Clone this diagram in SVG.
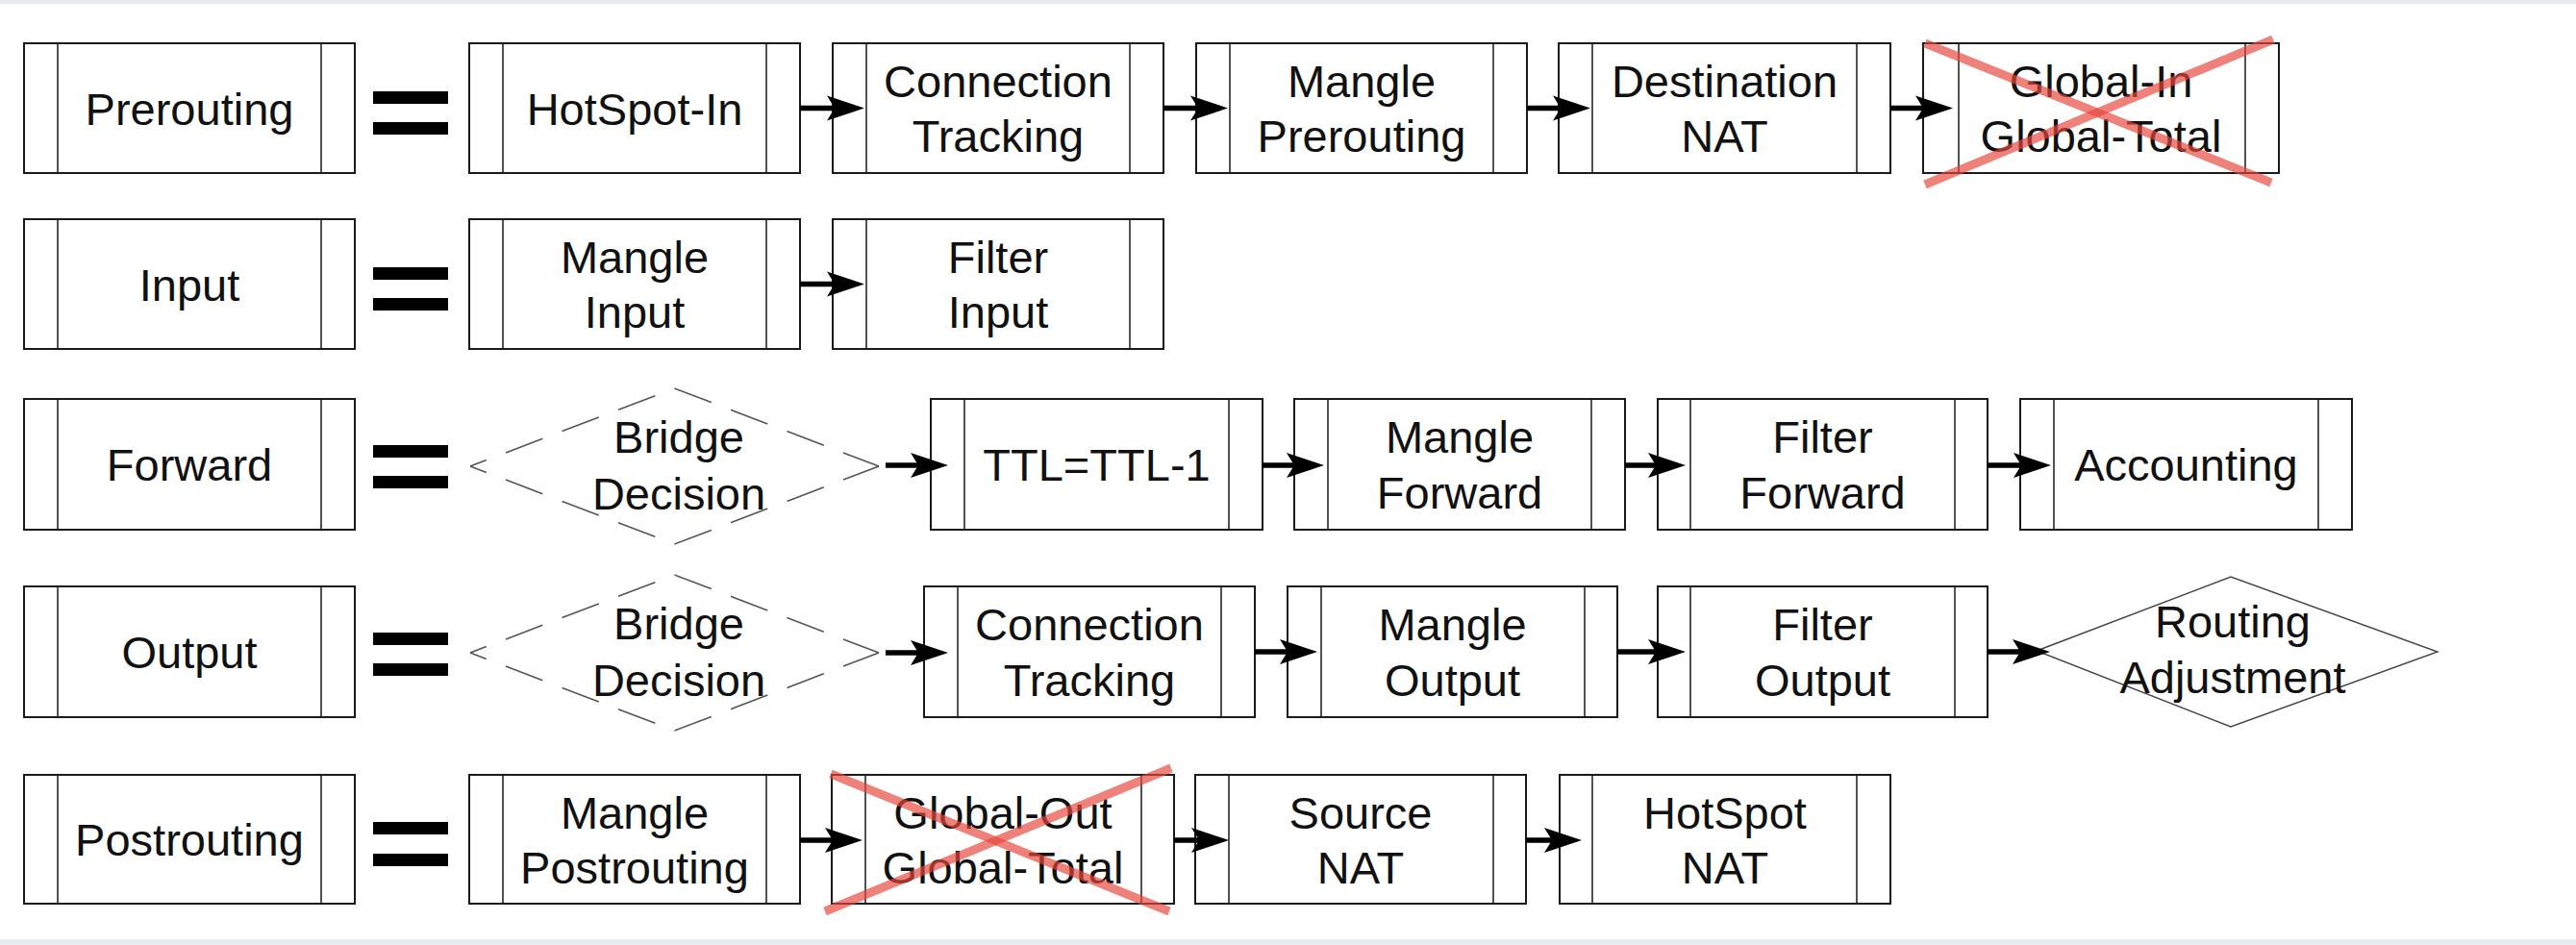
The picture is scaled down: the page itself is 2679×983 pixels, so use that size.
<svg xmlns="http://www.w3.org/2000/svg" width="2679" height="983" viewBox="0 0 2679 983">
<style>
.bx rect{fill:#fff;stroke:#1a1a1a;stroke-width:2}
.bx line{stroke:#1a1a1a;stroke-width:1.5}
text{font-family:"Liberation Sans",Arial,Helvetica,sans-serif;font-size:47px;fill:#111;text-anchor:middle}
.eq rect{fill:#000}
.dd{fill:none;stroke:#555;stroke-width:1.6;stroke-dasharray:41 21.6;stroke-dashoffset:23}
.rd{fill:#fff;stroke:#444;stroke-width:1.4}
.cx line{stroke:#e8463c;stroke-opacity:0.68;stroke-width:9}
#connectors path{fill:none;stroke:#000;stroke-width:5.5;marker-end:url(#ah)}
</style>
<defs>
<marker id="ah" markerUnits="userSpaceOnUse" markerWidth="46" markerHeight="32" viewBox="-2 -16 46 32" refX="13" refY="0" orient="auto">
<path d="M0,-13 L39,0 L0,13 L8,0 Z" fill="#000"/>
</marker>
</defs>
<rect x="0" y="0" width="2679" height="983" fill="#fff"/>
<rect x="0" y="0" width="2679" height="4" fill="#e6e9ee"/>
<rect x="0" y="977" width="2679" height="6" fill="#e9ecf0"/>

<!-- Row 1 -->
<g id="prerouting" class="bx"><rect x="25" y="45" width="344" height="135"/><line x1="60" y1="45" x2="60" y2="180"/><line x1="334" y1="45" x2="334" y2="180"/><text x="197" y="129.5">Prerouting</text></g>
<g id="eq1" class="eq"><rect x="388" y="95" width="78" height="13"/><rect x="388" y="127" width="78" height="13"/></g>
<g id="hotspot-in" class="bx"><rect x="488" y="45" width="344" height="135"/><line x1="523" y1="45" x2="523" y2="180"/><line x1="797" y1="45" x2="797" y2="180"/><text x="660" y="129.5">HotSpot-In</text></g>
<g id="conntrack1" class="bx"><rect x="866" y="45" width="344" height="135"/><line x1="901" y1="45" x2="901" y2="180"/><line x1="1175" y1="45" x2="1175" y2="180"/><text x="1038" y="100.5">Connection</text><text x="1038" y="158">Tracking</text></g>
<g id="mangle-prerouting" class="bx"><rect x="1244" y="45" width="344" height="135"/><line x1="1279" y1="45" x2="1279" y2="180"/><line x1="1553" y1="45" x2="1553" y2="180"/><text x="1416" y="100.5">Mangle</text><text x="1416" y="158">Prerouting</text></g>
<g id="dst-nat" class="bx"><rect x="1621" y="45" width="345" height="135"/><line x1="1656" y1="45" x2="1656" y2="180"/><line x1="1931" y1="45" x2="1931" y2="180"/><text x="1793.5" y="100.5">Destination</text><text x="1793.5" y="158">NAT</text></g>
<g id="global-in" class="bx"><rect x="2000" y="45" width="370" height="135"/><line x1="2037" y1="45" x2="2037" y2="180"/><line x1="2335" y1="45" x2="2335" y2="180"/><text x="2185" y="100.5">Global-In</text><text x="2185" y="158">Global-Total</text>
<g class="cx"><line x1="2002" y1="45" x2="2362" y2="190"/><line x1="2364" y1="41" x2="2002" y2="192"/></g></g>

<!-- Row 2 -->
<g id="input" class="bx"><rect x="25" y="228" width="344" height="135"/><line x1="60" y1="228" x2="60" y2="363"/><line x1="334" y1="228" x2="334" y2="363"/><text x="197" y="312.5">Input</text></g>
<g id="eq2" class="eq"><rect x="388" y="278" width="78" height="13"/><rect x="388" y="310" width="78" height="13"/></g>
<g id="mangle-input" class="bx"><rect x="488" y="228" width="344" height="135"/><line x1="523" y1="228" x2="523" y2="363"/><line x1="797" y1="228" x2="797" y2="363"/><text x="660" y="283.5">Mangle</text><text x="660" y="341">Input</text></g>
<g id="filter-input" class="bx"><rect x="866" y="228" width="344" height="135"/><line x1="901" y1="228" x2="901" y2="363"/><line x1="1175" y1="228" x2="1175" y2="363"/><text x="1038" y="283.5">Filter</text><text x="1038" y="341">Input</text></g>

<!-- Row 3 -->
<g id="forward" class="bx"><rect x="25" y="415" width="344" height="136"/><line x1="60" y1="415" x2="60" y2="551"/><line x1="334" y1="415" x2="334" y2="551"/><text x="197" y="500">Forward</text></g>
<g id="eq3" class="eq"><rect x="388" y="463" width="78" height="13"/><rect x="388" y="495" width="78" height="13"/></g>
<g id="bridge1"><path class="dd" d="M489,485 L701.5,404 L914,485"/><path class="dd" d="M489,485 L701.5,566 L914,485"/><text x="706" y="471">Bridge</text><text x="706" y="530">Decision</text></g>
<g id="ttl" class="bx"><rect x="968" y="415" width="345" height="136"/><line x1="1003" y1="415" x2="1003" y2="551"/><line x1="1278" y1="415" x2="1278" y2="551"/><text x="1140.5" y="500">TTL=TTL-1</text></g>
<g id="mangle-forward" class="bx"><rect x="1346" y="415" width="344" height="136"/><line x1="1381" y1="415" x2="1381" y2="551"/><line x1="1655" y1="415" x2="1655" y2="551"/><text x="1518" y="471">Mangle</text><text x="1518" y="528.5">Forward</text></g>
<g id="filter-forward" class="bx"><rect x="1724" y="415" width="343" height="136"/><line x1="1758" y1="415" x2="1758" y2="551"/><line x1="2033" y1="415" x2="2033" y2="551"/><text x="1895.5" y="471">Filter</text><text x="1895.5" y="528.5">Forward</text></g>
<g id="accounting" class="bx"><rect x="2101" y="415" width="345" height="136"/><line x1="2136" y1="415" x2="2136" y2="551"/><line x1="2411" y1="415" x2="2411" y2="551"/><text x="2273.5" y="500">Accounting</text></g>

<!-- Row 4 -->
<g id="output" class="bx"><rect x="25" y="610" width="344" height="136"/><line x1="60" y1="610" x2="60" y2="746"/><line x1="334" y1="610" x2="334" y2="746"/><text x="197" y="695">Output</text></g>
<g id="eq4" class="eq"><rect x="388" y="658" width="78" height="13"/><rect x="388" y="690" width="78" height="13"/></g>
<g id="bridge2"><path class="dd" d="M489,679 L701.5,598 L914,679"/><path class="dd" d="M489,679 L701.5,760 L914,679"/><text x="706" y="665">Bridge</text><text x="706" y="724">Decision</text></g>
<g id="conntrack2" class="bx"><rect x="961" y="610" width="344" height="136"/><line x1="996" y1="610" x2="996" y2="746"/><line x1="1270" y1="610" x2="1270" y2="746"/><text x="1133" y="666">Connection</text><text x="1133" y="723.5">Tracking</text></g>
<g id="mangle-output" class="bx"><rect x="1339" y="610" width="343" height="136"/><line x1="1374" y1="610" x2="1374" y2="746"/><line x1="1648" y1="610" x2="1648" y2="746"/><text x="1510.5" y="666">Mangle</text><text x="1510.5" y="723.5">Output</text></g>
<g id="filter-output" class="bx"><rect x="1724" y="610" width="343" height="136"/><line x1="1758" y1="610" x2="1758" y2="746"/><line x1="2033" y1="610" x2="2033" y2="746"/><text x="1895.5" y="666">Filter</text><text x="1895.5" y="723.5">Output</text></g>
<g id="routing-adjustment"><path class="rd" d="M2118,677 L2320,600 L2535,678 L2320,756 Z"/><text x="2322" y="663">Routing</text><text x="2322" y="721">Adjustment</text></g>

<!-- Row 5 -->
<g id="postrouting" class="bx"><rect x="25" y="806" width="344" height="134"/><line x1="60" y1="806" x2="60" y2="940"/><line x1="334" y1="806" x2="334" y2="940"/><text x="197" y="890">Postrouting</text></g>
<g id="eq5" class="eq"><rect x="388" y="855" width="78" height="13"/><rect x="388" y="888" width="78" height="13"/></g>
<g id="mangle-postrouting" class="bx"><rect x="488" y="806" width="344" height="134"/><line x1="523" y1="806" x2="523" y2="940"/><line x1="797" y1="806" x2="797" y2="940"/><text x="660" y="861.5">Mangle</text><text x="660" y="919">Postrouting</text></g>
<g id="global-out" class="bx"><rect x="865" y="806" width="356" height="134"/><line x1="900" y1="806" x2="900" y2="940"/><line x1="1187" y1="806" x2="1187" y2="940"/><text x="1043" y="861.5">Global-Out</text><text x="1043" y="919">Global-Total</text>
<g class="cx"><line x1="864" y1="805" x2="1216" y2="948"/><line x1="1218" y1="799" x2="858" y2="948"/></g></g>
<g id="src-nat" class="bx"><rect x="1243" y="806" width="344" height="134"/><line x1="1278" y1="806" x2="1278" y2="940"/><line x1="1553" y1="806" x2="1553" y2="940"/><text x="1415" y="861.5">Source</text><text x="1415" y="919">NAT</text></g>
<g id="hotspot-nat" class="bx"><rect x="1622" y="806" width="344" height="134"/><line x1="1656" y1="806" x2="1656" y2="940"/><line x1="1931" y1="806" x2="1931" y2="940"/><text x="1794" y="861.5">HotSpot</text><text x="1794" y="919">NAT</text></g>

<g id="connectors">
<path d="M832,112.5 H873"/>
<path d="M1210,112.5 H1251"/>
<path d="M1588,112.5 H1628"/>
<path d="M1966,112.5 H2005"/>
<path d="M832,295.5 H873"/>
<path d="M921,484 H960"/>
<path d="M1313,484 H1351"/>
<path d="M1690,484 H1727"/>
<path d="M2067,484 H2107"/>
<path d="M921,679 H960"/>
<path d="M1305,678 H1344"/>
<path d="M1682,678 H1727"/>
<path d="M2067,678 H2106"/>
<path d="M832,874 H871"/>
<path d="M1221,874 H1252"/>
<path d="M1587,874 H1619"/>
</g>
</svg>
